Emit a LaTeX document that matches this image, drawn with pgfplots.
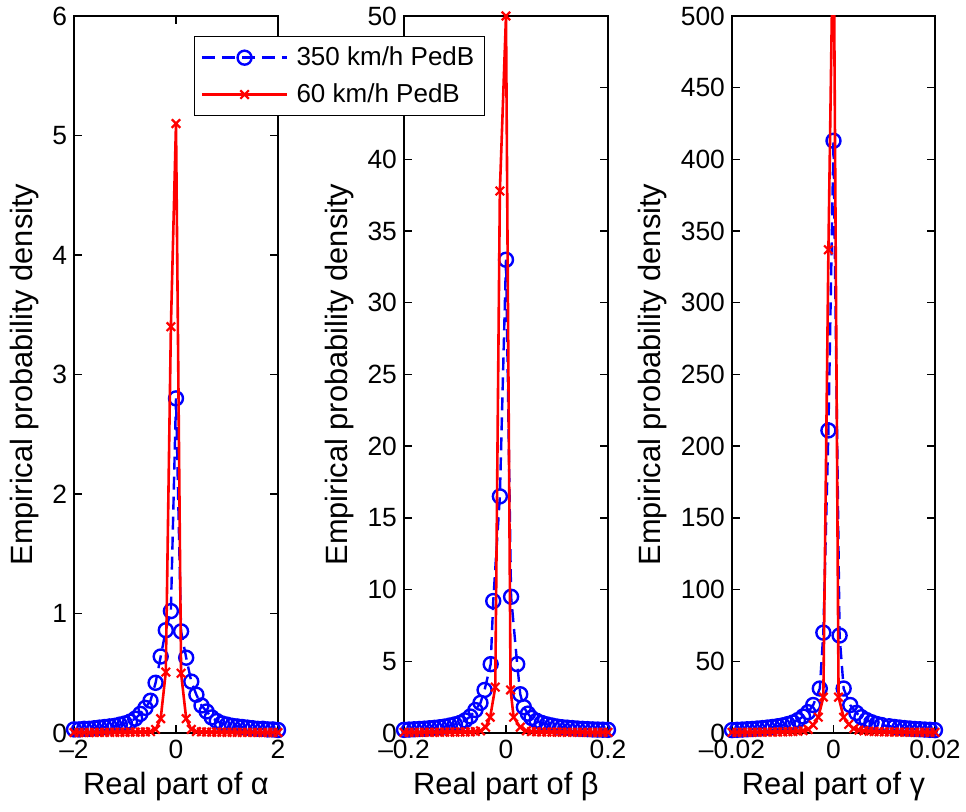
\documentclass[border=0pt]{standalone}
\usepackage{fontspec}
\setmainfont{Liberation Sans}
\usepackage{pgfplots}
\usepackage{pgfplotstable}
\pgfplotsset{compat=1.18}

% panel 1: real part of alpha
\pgfplotstableread{
x y
-2.0 0.03
-1.9 0.03
-1.8 0.035
-1.7 0.035
-1.6 0.04
-1.5 0.045
-1.4 0.05
-1.3 0.055
-1.2 0.06
-1.1 0.07
-1.0 0.08
-0.9 0.095
-0.8 0.12
-0.7 0.16
-0.6 0.21
-0.5 0.27
-0.4 0.42
-0.3 0.64
-0.2 0.86
-0.1 1.02
0.0 2.8
0.1 0.85
0.2 0.63
0.3 0.43
0.4 0.32
0.5 0.23
0.6 0.18
0.7 0.13
0.8 0.1
0.9 0.08
1.0 0.07
1.1 0.06
1.2 0.055
1.3 0.05
1.4 0.045
1.5 0.04
1.6 0.035
1.7 0.035
1.8 0.03
1.9 0.03
2.0 0.025
}\blueA
\pgfplotstableread{
x y
-2.0 0.004
-1.9 0.004
-1.8 0.004
-1.7 0.004
-1.6 0.005
-1.5 0.005
-1.4 0.005
-1.3 0.005
-1.2 0.006
-1.1 0.006
-1.0 0.006
-0.9 0.007
-0.8 0.007
-0.7 0.008
-0.6 0.009
-0.5 0.012
-0.4 0.03
-0.3 0.12
-0.2 0.51
-0.1 3.4
0.0 5.1
0.1 0.5
0.2 0.12
0.3 0.03
0.4 0.012
0.5 0.009
0.6 0.008
0.7 0.007
0.8 0.007
0.9 0.006
1.0 0.006
1.1 0.006
1.2 0.005
1.3 0.005
1.4 0.005
1.5 0.005
1.6 0.004
1.7 0.004
1.8 0.004
1.9 0.004
2.0 0.004
}\redA

% panel 2: real part of beta
\pgfplotstableread{
x y
-0.20 0.22
-0.19 0.24
-0.18 0.26
-0.17 0.28
-0.16 0.30
-0.15 0.33
-0.14 0.36
-0.13 0.40
-0.12 0.45
-0.11 0.52
-0.10 0.60
-0.09 0.70
-0.08 0.88
-0.07 1.15
-0.06 1.6
-0.05 2.1
-0.042 3.0
-0.03 4.8
-0.025 9.2
-0.012 16.5
0.0 33.0
0.01 9.5
0.022 4.8
0.028 2.7
0.035 1.8
0.043 1.35
0.05 1.05
0.06 0.85
0.07 0.70
0.08 0.60
0.09 0.52
0.10 0.45
0.11 0.40
0.12 0.37
0.13 0.34
0.14 0.31
0.15 0.29
0.16 0.27
0.17 0.25
0.18 0.24
0.19 0.23
0.20 0.22
}\blueB
\pgfplotstableread{
x y
-0.20 0.04
-0.19 0.04
-0.18 0.04
-0.17 0.04
-0.16 0.05
-0.15 0.05
-0.14 0.05
-0.13 0.05
-0.12 0.06
-0.11 0.06
-0.10 0.06
-0.09 0.07
-0.08 0.07
-0.07 0.08
-0.06 0.10
-0.05 0.15
-0.04 0.4
-0.031 1.1
-0.021 3.2
-0.012 37.8
0.0 50.0
0.009 3.0
0.015 1.1
0.028 0.4
0.04 0.15
0.05 0.10
0.06 0.08
0.07 0.07
0.08 0.07
0.09 0.06
0.10 0.06
0.11 0.06
0.12 0.05
0.13 0.05
0.14 0.05
0.15 0.05
0.16 0.04
0.17 0.04
0.18 0.04
0.19 0.04
0.20 0.04
}\redB

% panel 3: real part of gamma
\pgfplotstableread{
x y
-0.020 2.0
-0.019 2.2
-0.018 2.4
-0.017 2.6
-0.016 2.8
-0.015 3.1
-0.014 3.4
-0.013 3.8
-0.012 4.2
-0.011 4.7
-0.010 5.3
-0.009 6.2
-0.008 7.3
-0.007 9.0
-0.006 11.5
-0.005 14.5
-0.004 19.5
-0.0027 31
-0.002 70
-0.001 211
0.0 413
0.0012 68
0.002 31
0.0033 19.5
0.0045 14
0.0055 11
0.0065 9
0.0075 7.5
0.0085 6.3
0.0095 5.5
0.011 4.7
0.012 4.2
0.013 3.8
0.014 3.4
0.015 3.1
0.016 2.8
0.017 2.6
0.018 2.4
0.019 2.2
0.020 2.0
}\blueC
\pgfplotstableread{
x y
-0.020 0.4
-0.019 0.4
-0.018 0.45
-0.017 0.45
-0.016 0.5
-0.015 0.5
-0.014 0.55
-0.013 0.6
-0.012 0.65
-0.011 0.7
-0.010 0.8
-0.009 0.9
-0.008 1.0
-0.007 1.2
-0.006 1.6
-0.005 2.5
-0.004 5.5
-0.003 11
-0.002 25
-0.001 337
0.0 580
0.001 25
0.002 11
0.003 6
0.004 3
0.005 2
0.006 1.5
0.007 1.2
0.008 1.0
0.009 0.9
0.010 0.8
0.011 0.7
0.012 0.65
0.013 0.6
0.014 0.55
0.015 0.5
0.016 0.5
0.017 0.45
0.018 0.45
0.019 0.4
0.020 0.4
}\redC

\pgfplotsset{
  panel/.style={
    scale only axis, width=102pt, height=358.5pt, ymin=0,
    axis line style={line width=0.7pt},
    every tick/.style={black, line width=0.7pt},
    major tick length=4pt,
    tick label style={font=\fontsize{13.2}{15}\selectfont},
    label style={font=\fontsize{15.4}{18}\selectfont},
    /pgf/number format/assume math mode=true,
    scaled x ticks=false, scaled y ticks=false,
    ylabel={Empirical probability density},
    clip mode=individual,
    legend image code/.code={\draw[mark repeat=2,mark phase=2,##1] plot coordinates {(0cm,0cm) (0.75cm,0cm) (1.5cm,0cm)};},
  },
  blueser/.style={blue, dash pattern=on 6.5pt off 3.5pt, line width=1.2pt, mark=o, mark size=3.5pt, mark options={solid}},
  redmark/.style={red, mark=x, mark size=3pt, mark options={line width=1.1pt}},
  redser/.style={redmark, solid, line width=1.3pt},
}

\begin{document}
\begin{tikzpicture}
\useasboundingbox (0,0) rectangle (483pt,406pt);

\begin{axis}[panel, at={(37pt,39.5pt)},
  xmin=-2, xmax=2, ymax=6, xtick={-2,0,2}, xticklabels={–2,0,2},
  ytick={0,1,...,6},
  xlabel={Real part of α}]
\addplot[blueser] table {\blueA};
\addplot[redser] table {\redA};
\end{axis}

\begin{axis}[panel, at={(202pt,39.5pt)},
  xmin=-0.2, xmax=0.2, ymax=50, xtick={-0.2,0,0.2}, xticklabels={–0.2,0,0.2},
  ytick={0,5,...,50},
  xlabel={Real part of β},
  legend style={at={(axis description cs:-1.03,0.972)}, anchor=north west,
    draw=black, line width=0.7pt, font=\fontsize{13}{15.6}\selectfont,
    row sep=3.5pt, inner ysep=3pt, cells={anchor=west},
    /tikz/every odd column/.style={column sep=2pt}}]
\addplot[blueser] table {\blueB};
\addplot[redser] table {\redB};
\legend{350 km/h PedB, 60 km/h PedB}
\end{axis}

\begin{axis}[panel, at={(366pt,39.5pt)}, width=101.5pt,
  xmin=-0.02, xmax=0.02, ymax=500, xtick={-0.02,0,0.02}, xticklabels={–0.02,0,0.02},
  ytick={0,50,...,500},
  xlabel={Real part of γ}]
\addplot[blueser] table {\blueC};
\addplot[red, solid, line width=1.3pt, no marks] table {\redC};
\addplot[redmark, only marks, restrict y to domain=0:500] table {\redC};
\end{axis}
\end{tikzpicture}
\end{document}
